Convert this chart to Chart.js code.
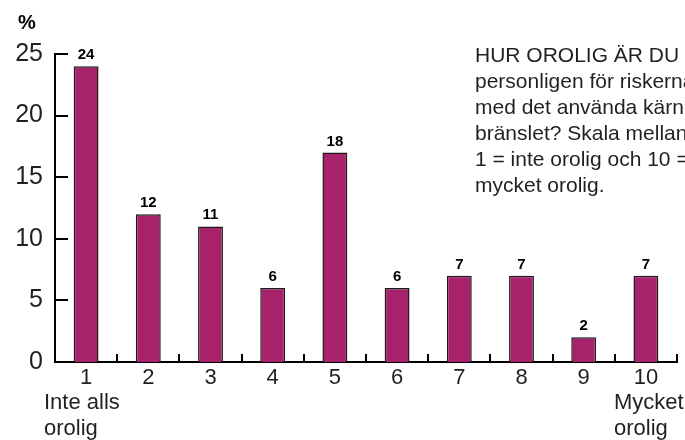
<!DOCTYPE html>
<html>
<head>
<meta charset="utf-8">
<script src="https://cdn.jsdelivr.net/npm/chart.js@4/dist/chart.umd.min.js"></script>
<style>
  html, body { margin: 0; padding: 0; background: #fff; }
  canvas { display: block; }
</style>
</head>
<body>
<canvas id="chart" width="685" height="440"></canvas>
<script>
// scale 1..10, share in percent
const categories = ['1', '2', '3', '4', '5', '6', '7', '8', '9', '10'];
const barValues = [24, 12, 11, 6, 17, 6, 7, 7, 2, 7];
// printed numbers above the bars (bar 5 is printed as 18 in the original)
const barLabels = ['24', '12', '11', '6', '18', '6', '7', '7', '2', '7'];
const yTicks = [0, 5, 10, 15, 20, 25];
const unitLabel = '%';
const lowNote = ['Inte alls', 'orolig'];
const highNote = ['Mycket', 'orolig'];
const questionLines = [
  'HUR OROLIG ÄR DU',
  'personligen för riskerna',
  'med det använda kärn-',
  'bränslet? Skala mellan',
  '1 = inte orolig och 10 =',
  'mycket orolig.'
];

const FONT = '"Liberation Sans", Arial, sans-serif';
const INK = '#231f20';

// axis ticks, value labels and the free texts
const decorPlugin = {
  id: 'decor',
  afterDraw(chart) {
    const ctx = chart.ctx;
    const x = chart.scales.x, y = chart.scales.y;
    const area = chart.chartArea;
    ctx.save();
    ctx.strokeStyle = '#000';
    ctx.lineWidth = 2;

    // inward y ticks
    yTicks.forEach(v => {
      const py = Math.round(y.getPixelForValue(v));
      ctx.beginPath();
      ctx.moveTo(area.left, py);
      ctx.lineTo(area.left + 13, py);
      ctx.stroke();
    });

    // upward ticks between categories
    const step = (area.right - area.left) / categories.length;
    for (let i = 1; i <= categories.length; i++) {
      const px = Math.round(x.getPixelForValue(i - 1) + step / 2);
      ctx.beginPath();
      ctx.moveTo(px, area.bottom);
      ctx.lineTo(px, area.bottom - 8);
      ctx.stroke();
    }

    // value labels
    const meta = chart.getDatasetMeta(0);
    ctx.fillStyle = '#000';
    ctx.font = 'bold 15px ' + FONT;
    ctx.textAlign = 'center';
    ctx.textBaseline = 'alphabetic';
    meta.data.forEach((bar, i) => {
      ctx.fillText(barLabels[i], bar.x, bar.y - 7);
    });

    // unit
    ctx.textAlign = 'left';
    ctx.font = 'bold 20px ' + FONT;
    ctx.fillText(unitLabel, 18, 29);

    // end notes under the x axis
    ctx.fillStyle = INK;
    ctx.font = '22px ' + FONT;
    lowNote.forEach((t, i) => ctx.fillText(t, 44, 409 + i * 26));
    highNote.forEach((t, i) => ctx.fillText(t, 614, 409 + i * 26));

    // question text
    ctx.font = '21px ' + FONT;
    questionLines.forEach((t, i) => ctx.fillText(t, 475, 62 + i * 26));
    ctx.restore();
  }
};

new Chart(document.getElementById('chart'), {
  type: 'bar',
  data: {
    labels: categories,
    datasets: [{
      data: barValues,
      backgroundColor: '#a8226b',
      borderColor: '#1a1a1a',
      borderWidth: 1.5,
      barPercentage: 0.4,
      categoryPercentage: 1
    }]
  },
  options: {
    responsive: false,
    animation: false,
    layout: { padding: { top: 54, right: 8, left: 0, bottom: 0 } },
    plugins: {
      legend: { display: false },
      tooltip: { enabled: false }
    },
    scales: {
      x: {
        grid: { display: false, drawTicks: false },
        border: { display: true, color: '#000', width: 2 },
        ticks: {
          color: INK,
          font: { family: FONT, size: 22 },
          padding: 3,
          maxRotation: 0
        },
        afterFit(scale) { scale.height = 78; }
      },
      y: {
        min: 0,
        max: 25,
        grid: { display: false, drawTicks: false },
        border: { display: true, color: '#000', width: 2 },
        afterBuildTicks(scale) { scale.ticks = yTicks.map(v => ({ value: v })); },
        ticks: {
          color: INK,
          font: { family: FONT, size: 25 },
          padding: 12
        },
        afterFit(scale) { scale.width = 55; }
      }
    }
  },
  plugins: [decorPlugin]
});
</script>
</body>
</html>
